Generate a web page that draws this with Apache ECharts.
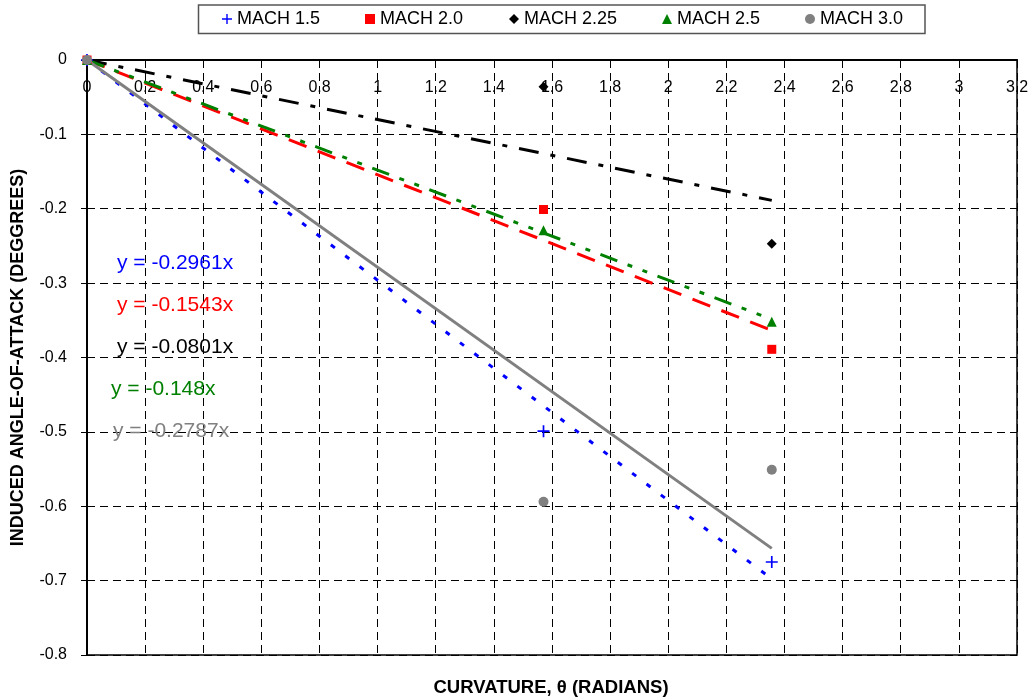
<!DOCTYPE html>
<html>
<head>
<meta charset="utf-8">
<script src="https://cdn.jsdelivr.net/npm/echarts@6/dist/echarts.min.js"></script>
<style>
  html, body { margin: 0; padding: 0; background: #fff; }
  #chart { width: 1032px; height: 700px; }
</style>
</head>
<body>
<div id="chart"></div>
<script>
// Induced angle-of-attack vs. curvature for several Mach numbers
const seriesNames = ['MACH 1.5', 'MACH 2.0', 'MACH 2.25', 'MACH 2.5', 'MACH 3.0'];
const curvature = [0, 1.5708, 2.3562];           // radians
const mach15  = [0, -0.499, -0.675];
const mach20  = [0, -0.201, -0.389];
const mach225 = [0, -0.036, -0.247];
const mach25  = [0, -0.229, -0.352];
const mach30  = [0, -0.594, -0.551];
const trendSlopes = [-0.2961, -0.1543, -0.0801, -0.148, -0.2787]; // linear fits through origin

const values = [mach15, mach20, mach225, mach25, mach30];
const colors = ['#0000FF', '#FF0000', '#000000', '#008000', '#808080'];
const FONT = '"Liberation Sans", Arial, sans-serif';

const plusPath = 'path://M4.3,0h1.4v10h-1.4z M0,4.3h10v1.4h-10z';
const symbols = [plusPath, 'rect', 'diamond', 'triangle', 'circle'];
const symbolSizes = [12, 9, 10, 10, 10];
const trendDash = [[5, 13], [19, 12], [20, 12, 5, 12], [18, 11, 5, 11, 5, 11], 'solid'];

const chart = echarts.init(document.getElementById('chart'), null, { renderer: 'canvas' });

const xMax = Math.max(...curvature);

const series = [];
// trend lines first so the markers sit on top
seriesNames.forEach((name, i) => {
  series.push({
    name: name + ' fit',
    type: 'line',
    data: [[0, 0], [xMax, trendSlopes[i] * xMax]],
    showSymbol: false,
    silent: true,
    z: 2,
    lineStyle: { color: colors[i], width: 3, type: trendDash[i] }
  });
});
seriesNames.forEach((name, i) => {
  series.push({
    name: name,
    type: 'scatter',
    data: curvature.map((x, k) => [x, values[i][k]]),
    symbol: symbols[i],
    symbolSize: symbolSizes[i],
    z: 3,
    itemStyle: { color: colors[i], opacity: 1 }
  });
});

// legend entries, one per series, laid out across the framed box
const legendIconX = [227, 370, 514, 667, 810];
const legends = seriesNames.map((name, i) => ({
  data: [name],
  left: legendIconX[i] - 5,
  top: 10,
  padding: 0,
  itemWidth: 10,
  itemHeight: 10,
  selectedMode: false,
  itemStyle: { opacity: 1 },
  textStyle: { fontSize: 18, fontFamily: FONT, color: '#000', lineHeight: 18 }
}));

// equation labels for each fit
const eqPos = [[117, 265], [117, 307], [117, 349], [111, 391], [113, 433]];
const eqTexts = trendSlopes.map((s, i) => ({
  type: 'text',
  left: eqPos[i][0],
  top: eqPos[i][1] - 12,
  z: 10,
  style: { text: 'y = ' + s + 'x', fill: colors[i], font: '21px ' + FONT }
}));

const option = {
  backgroundColor: '#fff',
  animation: false,
  legend: legends,
  grid: {
    left: 87, right: 15, top: 60, bottom: 45,
    show: true, borderColor: '#000', borderWidth: 1.5, backgroundColor: 'transparent'
  },
  xAxis: {
    type: 'value',
    position: 'top',
    min: 0, max: 3.2, interval: 0.2,
    axisLine: { show: true, onZero: false, lineStyle: { color: '#000', width: 2 } },
    axisTick: { show: false },
    axisLabel: {
      inside: true, margin: 20, fontSize: 16, color: '#000', fontFamily: FONT,
      showMinLabel: true, showMaxLabel: true
    },
    splitLine: { show: true, lineStyle: { color: '#000', width: 1, type: [8, 5] } }
  },
  yAxis: {
    type: 'value',
    min: -0.8, max: 0, interval: 0.1,
    name: 'INDUCED ANGLE-OF-ATTACK (DEGGREES)',
    nameLocation: 'middle',
    nameGap: 60,
    nameTextStyle: { fontSize: 18, fontWeight: 'bold', fontFamily: FONT, color: '#000' },
    axisLine: { show: true, onZero: false, lineStyle: { color: '#000', width: 2 } },
    axisTick: { show: true, length: 6, lineStyle: { color: '#000', width: 1 } },
    axisLabel: { margin: 20, fontSize: 16, color: '#000', fontFamily: FONT },
    splitLine: { show: true, lineStyle: { color: '#000', width: 1, type: [8, 5] } }
  },
  graphic: [
    {
      type: 'rect',
      shape: { x: 198.5, y: 5, width: 726.5, height: 28.5 },
      style: { fill: '#fff', stroke: '#555', lineWidth: 1.5 },
      z: -1
    },
    {
      type: 'text',
      x: 551,
      y: 688,
      style: {
        text: 'CURVATURE, θ (RADIANS)',
        font: 'bold 18.5px ' + FONT,
        fill: '#000',
        align: 'center',
        verticalAlign: 'middle'
      }
    },
    ...eqTexts
  ],
  series: series
};

chart.setOption(option);
</script>
</body>
</html>
